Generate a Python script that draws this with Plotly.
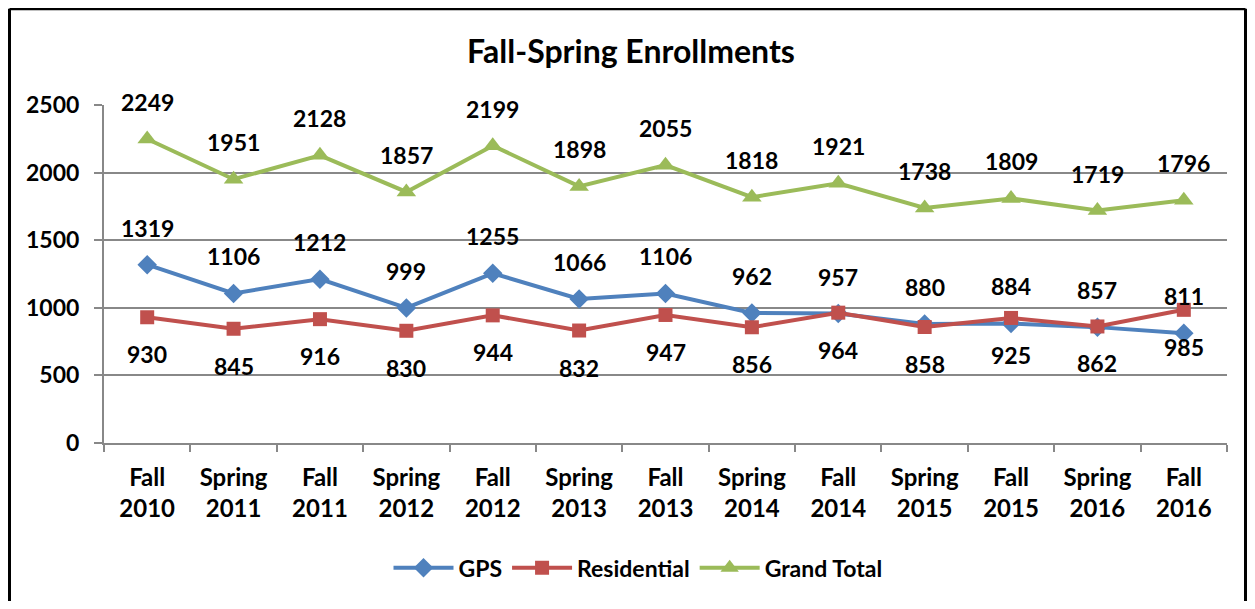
import plotly.graph_objects as go

categories = ["Fall<br>2010", "Spring<br>2011", "Fall<br>2011", "Spring<br>2012", "Fall<br>2012",
              "Spring<br>2013", "Fall<br>2013", "Spring<br>2014", "Fall<br>2014", "Spring<br>2015",
              "Fall<br>2015", "Spring<br>2016", "Fall<br>2016"]
gps = [1319, 1106, 1212, 999, 1255, 1066, 1106, 962, 957, 880, 884, 857, 811]
residential = [930, 845, 916, 830, 944, 832, 947, 856, 964, 858, 925, 862, 985]
grand_total = [2249, 1951, 2128, 1857, 2199, 1898, 2055, 1818, 1921, 1738, 1809, 1719, 1796]
y_ticks = [0, 500, 1000, 1500, 2000, 2500]

FONT = "Lato"
blue = "#4F81BD"
red = "#C0504D"
green = "#9BBB59"
LBL = dict(family=FONT, size=23, color="black", weight="bold")

fig = go.Figure()
fig.add_trace(go.Scatter(x=categories, y=gps, name="GPS", mode="lines+markers",
                         line=dict(color=blue, width=4),
                         marker=dict(symbol="diamond", size=15, color=blue)))
fig.add_trace(go.Scatter(x=categories, y=residential, name="Residential", mode="lines+markers",
                         line=dict(color=red, width=4),
                         marker=dict(symbol="square", size=14, color=red)))
fig.add_trace(go.Scatter(x=categories, y=grand_total, name="Grand Total", mode="lines+markers",
                         line=dict(color=green, width=4),
                         marker=dict(symbol="triangle-up", size=17, color=green)))

annotations = []
for c, v in zip(categories, gps):
    annotations.append(dict(x=c, y=v, text=str(v), showarrow=False, yshift=37, font=LBL))
for c, v in zip(categories, residential):
    annotations.append(dict(x=c, y=v, text=str(v), showarrow=False, yshift=-37, font=LBL))
for c, v in zip(categories, grand_total):
    annotations.append(dict(x=c, y=v, text=str(v), showarrow=False, yshift=37, font=LBL))

# page body has an 8px margin on every side: the figure is sized to fit the window without scrollbars
W, H = 1239, 593
L, T, R, B = 96, 97, 20, 155
plot_w = W - L - R
plot_h = H - T - B

def px_x(p):
    return (p - L) / plot_w

def px_y(p):
    return (T + plot_h - p) / plot_h

border = dict(color="black", width=3)
shapes = [
    dict(type="line", xref="paper", yref="paper", x0=px_x(1.5), x1=px_x(1.5), y0=px_y(0), y1=px_y(H + 5), line=border),
    dict(type="line", xref="paper", yref="paper", x0=px_x(1.5), x1=px_x(W - 1.5), y0=px_y(0), y1=px_y(0), line=border),
    dict(type="line", xref="paper", yref="paper", x0=px_x(W - 1.5), x1=px_x(W - 1.5), y0=px_y(0), y1=px_y(H + 5), line=border),
]

fig.update_layout(
    width=W, height=H,
    paper_bgcolor="white", plot_bgcolor="white",
    margin=dict(l=L, r=R, t=T, b=B),
    title=dict(text="<b>Fall-Spring Enrollments</b>", x=623 / W, xanchor="center",
               y=1 - 44 / H, yanchor="middle",
               font=dict(family=FONT, size=32, color="black")),
    font=dict(family=FONT, color="black"),
    showlegend=True,
    legend=dict(orientation="h", x=px_x(630), xanchor="center",
                y=px_y(564), yanchor="middle",
                font=LBL, itemwidth=60, tracegroupgap=0),
    annotations=annotations,
    shapes=shapes,
)
fig.update_xaxes(showline=True, linecolor="#888888", linewidth=2, showgrid=False,
                 ticks="outside", tickson="boundaries", ticklen=7, tickcolor="#888888", tickwidth=2,
                 ticklabelstandoff=12,
                 tickfont=dict(family=FONT, size=24, color="black", weight="bold"),
                 range=[-0.5, 12.5])
fig.update_yaxes(range=[0, 2500], tickvals=y_ticks, showline=True, linecolor="#888888", linewidth=2,
                 showgrid=True, gridcolor="#888888", gridwidth=2, zeroline=False,
                 ticks="outside", ticklen=8, tickcolor="#888888", tickwidth=2,
                 ticklabelstandoff=10, tickfont=LBL)

fig.write_html("out.html")
